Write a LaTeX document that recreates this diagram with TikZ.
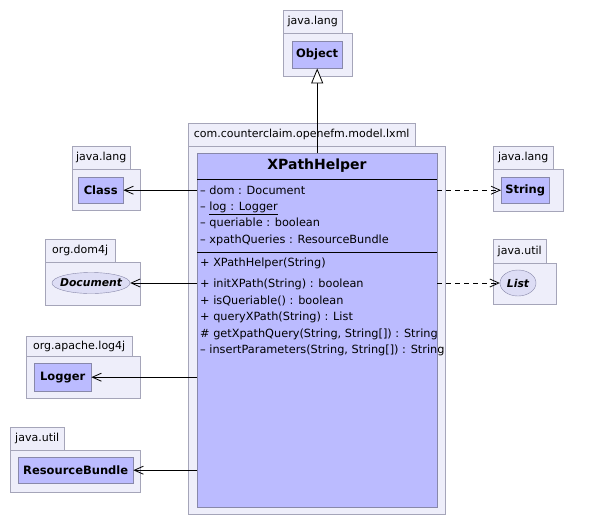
\documentclass[tikz,border=0pt]{standalone}
\usepackage{fontspec}
\setmainfont{DejaVu Sans}
\usepackage{xcolor}
\usetikzlibrary{shapes.geometric, arrows.meta, positioning, calc}
\definecolor{classfill}{RGB}{187,187,255}
\definecolor{pkgfill}{RGB}{238,238,250}
\definecolor{classborder}{RGB}{136,136,170}
\definecolor{pkgborder}{RGB}{165,165,185}
\definecolor{ifacefill}{RGB}{221,221,245}

\begin{document}
\begin{tikzpicture}[
    x=1pt, y=-1pt,
    pkgbody/.style={rectangle, draw=pkgborder, fill=pkgfill, anchor=north west, inner sep=0pt},
    pkgtab/.style={rectangle, draw=pkgborder, fill=pkgfill, anchor=north west, inner sep=0pt, minimum height=23pt, font=\fontsize{11}{13}\selectfont},
    classbox/.style={rectangle, draw=classborder, fill=classfill, anchor=north west, inner sep=0pt, font=\fontsize{11.5}{13}\selectfont\bfseries},
    ifacebox/.style={ellipse, draw=classborder, fill=ifacefill, inner sep=0pt},
    ifacename/.style={inner sep=0pt, font=\fontsize{10.8}{13}\selectfont\bfseries\itshape},
    member/.style={anchor=west, inner sep=0pt, text height=8pt, text depth=2.5pt, font=\fontsize{11.3}{13}\selectfont},
    sepline/.style={draw=black, line width=0.8pt},
    assoc/.style={-{Straight Barb[length=9pt, width=8pt]}, line width=0.8pt},
    depend/.style={-{Straight Barb[length=9pt, width=8pt]}, line width=0.8pt, dash pattern=on 5pt off 4pt},
    inherit/.style={-{Triangle[length=15pt, width=12pt, fill=white]}, line width=0.8pt}
]
    \useasboundingbox (0,0) rectangle (599,525);

    % java.lang : Object
    \node[pkgbody, minimum width=69pt, minimum height=43pt] (objpkg) at (283,33) {};
    \node[pkgtab, minimum width=59pt] (objtab) at (283,10) {java.lang};
    \node[classbox, minimum width=50pt, minimum height=27pt] (objbox) at (292,41) {Object};

    % com.counterclaim.openefm.model.lxml : XPathHelper
    \node[pkgbody, minimum width=257pt, minimum height=368pt] (xphpkg) at (188,146) {};
    \node[pkgtab, minimum width=227pt] (xphtab) at (188,123) {com.counterclaim.openefm.model.lxml};
    \node[classbox, minimum width=240pt, minimum height=354pt] (xph) at (197,153) {};
    \node[font=\fontsize{14}{16}\selectfont\bfseries] (xphname) at (317,166) {XPathHelper};
    \draw[sepline] (xph.north west) ++(0,26) -- ++(240,0);
    \draw[sepline] (xph.north west) ++(0,99) -- ++(240,0);

    \node[member] (fdom) at (200,192) {-- dom : Document};
    \node[member] (flog) at (200,208) {-- \underline{log : Logger}};
    \node[member] (fqry) at (200,224) {-- queriable : boolean};
    \node[member] (fres) at (200,241) {-- xpathQueries : ResourceBundle};

    \node[member] (mctor) at (200,264) {+ XPathHelper(String)};
    \node[member] (minit) at (200,285) {+ initXPath(String) : boolean};
    \node[member] (misq) at (200,302) {+ isQueriable() : boolean};
    \node[member] (mqx) at (200,318) {+ queryXPath(String) : List};
    \node[member] (mget) at (200,335) {\# getXpathQuery(String, String[]) : String};
    \node[member] (mins) at (200,351) {-- insertParameters(String, String[]) : String};

    % java.lang : Class
    \node[pkgbody, minimum width=68pt, minimum height=41pt] (clspkg) at (72,169) {};
    \node[pkgtab, minimum width=58pt] (clstab) at (72,146) {java.lang};
    \node[classbox, minimum width=45pt, minimum height=26pt] (clsbox) at (78,177) {Class};

    % org.dom4j : Document
    \node[pkgbody, minimum width=95pt, minimum height=43pt] (dompkg) at (45,262) {};
    \node[pkgtab, minimum width=70pt] (domtab) at (45,239) {org.dom4j};
    \node[ifacebox, minimum width=78pt, minimum height=21pt] (docbox) at (91,283) {};
    \node[ifacename] (docname) at (docbox.center) {Document};

    % org.apache.log4j : Logger
    \node[pkgbody, minimum width=114pt, minimum height=42pt] (logpkg) at (26,356) {};
    \node[pkgtab, minimum width=106pt, minimum height=20pt] (logtab) at (26,336) {org.apache.log4j};
    \node[classbox, minimum width=57pt, minimum height=28pt] (logbox) at (34,363) {Logger};

    % java.util : ResourceBundle
    \node[pkgbody, minimum width=130pt, minimum height=42pt] (rbpkg) at (10,450) {};
    \node[pkgtab, minimum width=54pt] (rbtab) at (10,427) {java.util};
    \node[classbox, minimum width=115pt, minimum height=26pt] (rbbox) at (18,457) {ResourceBundle};

    % java.lang : String
    \node[pkgbody, minimum width=70pt, minimum height=42pt] (strpkg) at (493,169) {};
    \node[pkgtab, minimum width=60pt] (strtab) at (493,146) {java.lang};
    \node[classbox, minimum width=48pt, minimum height=26pt] (strbox) at (501,177) {String};

    % java.util : List
    \node[pkgbody, minimum width=63pt, minimum height=41pt] (listpkg) at (493,263) {};
    \node[pkgtab, minimum width=53pt, minimum height=24pt] (listtab) at (493,239) {java.util};
    \node[ifacebox, minimum width=36pt, minimum height=26pt] (listbox) at (518,283) {};
    \node[ifacename] (listname) at (listbox.center) {List};

    % relations
    \draw[inherit] (xph.north) -- (objbox.south);
    \draw[assoc] (xph.west |- clsbox.east) -- (clsbox.east);
    \draw[assoc] (xph.west |- docbox.east) -- (docbox.east);
    \draw[assoc] (xph.west |- logbox.east) -- (logbox.east);
    \draw[assoc] (xph.west |- rbbox.east) -- (rbbox.east);
    \draw[depend] (xph.east |- strbox.west) -- (strbox.west);
    \draw[depend] (xph.east |- listbox.west) -- (listbox.west);
\end{tikzpicture}
\end{document}
